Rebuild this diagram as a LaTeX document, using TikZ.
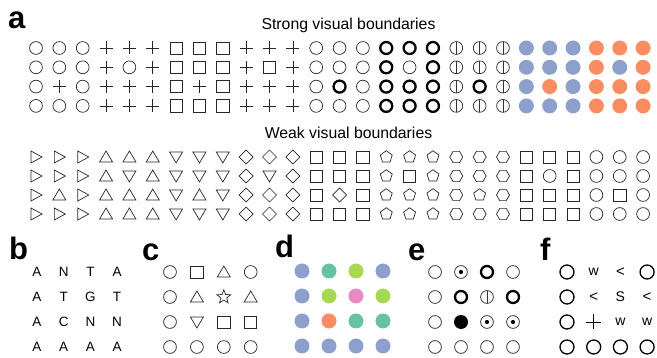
\documentclass[tikz,border=0pt]{standalone}
\usepackage{fontspec}
\setmainfont{Liberation Sans}
\definecolor{sblue}{HTML}{8DA0CB}
\definecolor{sorange}{HTML}{FC8D62}
\definecolor{sgreen}{HTML}{66C2A5}
\definecolor{slime}{HTML}{A6D854}
\definecolor{spink}{HTML}{E78AC3}
\tikzset{
  thinln/.style={line width=0.7pt, draw=black!85},
  boldln/.style={line width=2.3pt, draw=black},
  medln/.style={line width=1.3pt, draw=black},
  titletext/.style={font=\fontsize{15.8}{18}\selectfont, inner sep=0pt, anchor=base},
  panellabel/.style={font=\fontsize{31}{34}\selectfont\bfseries, inner sep=0pt, anchor=base west},
  seqtext/.style={font=\fontsize{13.5}{16}\selectfont, inner sep=0pt},
}
% glyph macros: x, y in pixel units (y downwards)
\newcommand\symO[2]{\draw[thinln] (#1,#2) circle (6.4);}
\newcommand\symB[2]{\draw[boldln] (#1,#2) circle (6.0);}
\newcommand\symV[2]{\draw[thinln] (#1,#2) circle (6.4); \draw[line width=1pt, draw=black!80] (#1,#2-6.4) -- (#1,#2+6.4);}
\newcommand\symb[2]{\fill[sblue] (#1,#2) circle (7.5);}
\newcommand\symo[2]{\fill[sorange] (#1,#2) circle (7.5);}
\newcommand\symg[2]{\fill[sgreen] (#1,#2) circle (7.5);}
\newcommand\syml[2]{\fill[slime] (#1,#2) circle (7.5);}
\newcommand\symp[2]{\fill[spink] (#1,#2) circle (7.5);}
\newcommand\symP[2]{\draw[thinln] (#1-6.5,#2) -- (#1+6.5,#2) (#1,#2-6.5) -- (#1,#2+6.5);}
\newcommand\symQ[2]{\draw[thinln] (#1-6.1,#2-6.1) rectangle (#1+6.1,#2+6.1);}
\newcommand\symR[2]{\draw[thinln] (#1-5,#2-6) -- (#1+6,#2) -- (#1-5,#2+6) -- cycle;}
\newcommand\symU[2]{\draw[thinln] (#1-6.5,#2+5) -- (#1+6.5,#2+5) -- (#1,#2-6) -- cycle;}
\newcommand\symD[2]{\draw[thinln] (#1-6.5,#2-5) -- (#1+6.5,#2-5) -- (#1,#2+6) -- cycle;}
\newcommand\symM[2]{\draw[thinln] (#1-7,#2) -- (#1,#2-7) -- (#1+7,#2) -- (#1,#2+7) -- cycle;}
\newcommand\symE[2]{\draw[thinln, shift={(#1,#2)}] (-90:6.3) -- (-18:6.3) -- (54:6.3) -- (126:6.3) -- (198:6.3) -- cycle;}
\newcommand\symH[2]{\draw[thinln, shift={(#1,#2)}] (0:6.5) -- (60:6.5) -- (120:6.5) -- (180:6.5) -- (240:6.5) -- (300:6.5) -- cycle;}
\newcommand\symT[2]{\draw[thinln] (#1,#2) circle (6.4); \fill (#1,#2) circle (2.1);}
\newcommand\symF[2]{\fill (#1,#2) circle (7);}
\newcommand\symS[2]{\draw[thinln, shift={(#1,#2)}] (-90:7.2) -- (-54:3.1) -- (-18:7.2) -- (18:3.1) -- (54:7.2) -- (90:3.1) -- (126:7.2) -- (162:3.1) -- (198:7.2) -- (234:3.1) -- cycle;}
\newcommand\symK[2]{\draw[medln] (#1,#2) circle (7);}
\newcommand\symY[2]{\draw[line width=0.9pt] (#1-7.5,#2) -- (#1+7.5,#2) (#1,#2-7.5) -- (#1,#2+7.5);}
\newcommand\symW[2]{\node[font=\fontsize{14}{16}\selectfont, inner sep=0pt] (fw-#1-#2) at (#1,#2) {w};}
\newcommand\symL[2]{\node[font=\fontsize{15}{16}\selectfont, inner sep=0pt] (fl-#1-#2) at (#1,#2) {<};}
\newcommand\symX[2]{\node[font=\fontsize{14}{16}\selectfont, inner sep=0pt] (fs-#1-#2) at (#1,#2) {S};}
\begin{document}
\begin{tikzpicture}[x=1pt, y=-1pt]
\useasboundingbox (0,0) rectangle (657,358);
% panel labels and titles
\node[panellabel] (la) at (8,29) {a};
\node[panellabel] (lb) at (9,260) {b};
\node[panellabel] (lc) at (142,261) {c};
\node[panellabel] (ld) at (275,258) {d};
\node[panellabel] (le) at (408,261) {e};
\node[panellabel] (lf) at (540,261) {f};
\node[titletext] (strong) at (348.5,30) {Strong visual boundaries};
\node[titletext] (weak) at (348.5,139) {Weak visual boundaries};
% strong grid
\foreach \row [count=\r] in {
 {O,O,O,P,P,P,Q,Q,Q,P,P,P,O,O,O,B,B,B,V,V,V,b,b,b,o,o,o},
 {O,O,O,P,O,P,Q,Q,Q,P,Q,P,O,O,O,B,O,B,V,V,V,b,b,b,o,b,o},
 {O,P,O,P,P,P,Q,P,Q,P,P,P,O,B,O,B,B,B,V,B,V,b,o,b,o,o,o},
 {O,O,O,P,P,P,Q,Q,Q,P,P,P,O,O,O,B,B,B,V,V,V,b,b,b,o,o,o}}{
  \foreach \s [count=\c] in \row {
    \pgfmathsetmacro\xx{36+(\c-1)*23.35}
    \pgfmathsetmacro\yy{48+(\r-1)*19.3}
    \csname sym\s\endcsname{\xx}{\yy}
  }
}
% weak grid
\foreach \row [count=\r] in {
 {R,R,R,U,U,U,D,D,D,M,M,M,Q,Q,Q,E,E,E,H,H,H,Q,Q,Q,O,O,O},
 {R,R,R,U,D,U,D,D,D,M,D,M,Q,Q,Q,E,Q,E,H,H,H,Q,O,Q,O,O,O},
 {R,U,R,U,U,U,D,U,D,M,M,M,Q,M,Q,E,E,E,H,E,H,Q,Q,Q,O,Q,O},
 {R,R,R,U,U,U,D,D,D,M,M,M,Q,Q,Q,E,E,E,H,H,H,Q,Q,Q,O,O,O}}{
  \foreach \s [count=\c] in \row {
    \pgfmathsetmacro\xx{36+(\c-1)*23.35}
    \pgfmathsetmacro\yy{157+(\r-1)*19}
    \csname sym\s\endcsname{\xx}{\yy}
  }
}
% panel b
\foreach \row [count=\r] in {{A,N,T,A},{A,T,G,T},{A,C,N,N},{A,A,A,A}}{
  \foreach \s [count=\c] in \row {
    \pgfmathsetmacro\xx{37+(\c-1)*26.7}
    \pgfmathsetmacro\yy{272+(\r-1)*25}
    \node[seqtext] (b\r\c) at (\xx,\yy) {\s};
  }
}
% panel c
\foreach \row [count=\r] in {{O,Q,U,O},{O,U,S,U},{O,D,Q,Q},{O,O,O,O}}{
  \foreach \s [count=\c] in \row {
    \pgfmathsetmacro\xx{170+(\c-1)*26.9}
    \pgfmathsetmacro\yy{272+(\r-1)*25}
    \csname sym\s\endcsname{\xx}{\yy}
  }
}
% panel d
\foreach \row [count=\r] in {{b,g,l,b},{b,l,p,l},{b,o,g,g},{b,b,b,b}}{
  \foreach \s [count=\c] in \row {
    \pgfmathsetmacro\xx{302+(\c-1)*27}
    \pgfmathsetmacro\yy{271+(\r-1)*25}
    \csname sym\s\endcsname{\xx}{\yy}
  }
}
% panel e
\foreach \row [count=\r] in {{O,T,B,O},{O,B,V,B},{O,F,T,T},{O,O,O,O}}{
  \foreach \s [count=\c] in \row {
    \pgfmathsetmacro\xx{435+(\c-1)*26}
    \pgfmathsetmacro\yy{272+(\r-1)*25}
    \csname sym\s\endcsname{\xx}{\yy}
  }
}
% panel f
\foreach \row [count=\r] in {{K,W,L,K},{K,L,X,L},{K,Y,W,W},{K,K,K,K}}{
  \foreach \s [count=\c] in \row {
    \pgfmathsetmacro\xx{567+(\c-1)*26.7}
    \pgfmathsetmacro\yy{272+(\r-1)*25}
    \csname sym\s\endcsname{\xx}{\yy}
  }
}
\end{tikzpicture}
\end{document}
